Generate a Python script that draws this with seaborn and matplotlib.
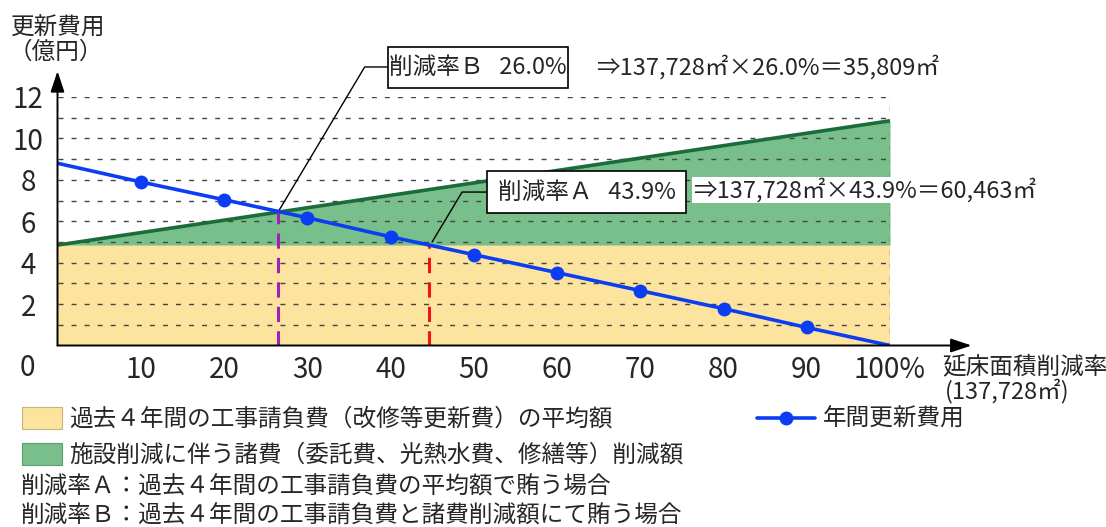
import matplotlib
matplotlib.use("Agg")
import matplotlib.pyplot as plt
from matplotlib.patches import Rectangle, Patch
from matplotlib.lines import Line2D
import seaborn as sns
import pandas as pd

# ---------------- data ----------------
pct = [0, 10, 20, 30, 40, 50, 60, 70, 80, 90, 100]
annual_cost = [8.80, 7.90, 7.04, 6.17, 5.25, 4.39, 3.52, 2.65, 1.78, 0.87, 0.0]
band_x = [0, 100]
contract_avg = [4.85, 4.85]          # 過去4年間の工事請負費の平均額
with_savings = [4.85, 10.85]          # + 諸費削減額
rate_b_pos, rate_b_val = 26.5, 6.45   # 交点B (drawn)
rate_a_pos, rate_a_val = 44.6, 4.85   # 交点A (drawn)
xtick_vals = [10, 20, 30, 40, 50, 60, 70, 80, 90, 100]
xtick_labels = ["10", "20", "30", "40", "50", "60", "70", "80", "90", "100%"]
ytick_vals = [2, 4, 6, 8, 10, 12]
ytick_labels = ["2", "4", "6", "8", "10", "12"]
grid_levels = list(range(1, 13))

label_b = "削減率Ｂ   26.0%"
label_a = "削減率Ａ   43.9%"
calc_b = "⇒137,728㎡×26.0%＝35,809㎡"
calc_a = "⇒137,728㎡×43.9%＝60,463㎡"
leg_yellow = "過去４年間の工事請負費（改修等更新費）の平均額"
leg_green = "施設削減に伴う諸費（委託費、光熱水費、修繕等）削減額"
leg_line = "年間更新費用"
note_a = "削減率Ａ：過去４年間の工事請負費の平均額で賄う場合"
note_b = "削減率Ｂ：過去４年間の工事請負費と諸費削減額にて賄う場合"

# ---------------- style ----------------
sns.set_style("white")
plt.rcParams["font.family"] = ["Noto Sans CJK JP", "DejaVu Sans"]

YELLOW = "#FCE49E"
GREEN = "#79BF8C"
DKGREEN = "#1C6B3B"
BLUE = "#0B3DF2"
PURPLE = "#A020B8"
RED = "#F01414"
GRID = "#444444"
FS = 17
TFS = 20

W, H = 1106, 527
fig = plt.figure(figsize=(W / 100, H / 100), dpi=100)

def fx(x):
    return x / W

def fy(y):
    return 1 - y / H

ax = fig.add_axes([fx(57.5), fy(345.5), 832.5 / W, 248.5 / H])
ax.set_xlim(0, 100)
ax.set_ylim(0, 12)
for s in ax.spines.values():
    s.set_visible(False)

# fills
ax.fill_between(band_x, 0, contract_avg, color=YELLOW, lw=0, zorder=1)
ax.fill_between(band_x, contract_avg, with_savings, color=GREEN, lw=0, zorder=1)

# dashed grid
ax.hlines(grid_levels, 0, 100, colors=GRID, linestyles=(0, (3.6, 5.8)), lw=1, zorder=2)
ax.vlines(100, 0, 12, colors=GRID, linestyles=(0, (3.6, 5.8)), lw=1, zorder=2)

# green top edge
sns.lineplot(x=band_x, y=with_savings, color=DKGREEN, lw=2.6, ax=ax, zorder=3)

# intersection verticals
ax.vlines(rate_b_pos, 0, rate_b_val, colors=PURPLE, linestyles=(0, (5, 3)), lw=2.2, zorder=3)
ax.vlines(rate_a_pos, 0, rate_a_val, colors=RED, linestyles=(0, (5, 3)), lw=2.2, zorder=3)

# annual cost line
df = pd.DataFrame({"pct": pct, "cost": annual_cost})
sns.lineplot(data=df, x="pct", y="cost", color=BLUE, lw=2.6, marker="o",
             markersize=10, markeredgewidth=0, markevery=list(range(1, 10)),
             ax=ax, zorder=5)

# axes arrows
arrow = dict(arrowstyle="-|>,head_length=0.9,head_width=0.3", color="black",
             lw=1.4, mutation_scale=14, shrinkA=0, shrinkB=0)
ax.annotate("", xy=(109.8, 0), xytext=(0, 0), arrowprops=arrow,
            annotation_clip=False, zorder=6)
ax.annotate("", xy=(0, 13.25), xytext=(0, 0), arrowprops=arrow,
            annotation_clip=False, zorder=6)

# ticks
ax.set_xticks(xtick_vals)
ax.set_xticklabels(xtick_labels, fontsize=TFS)
ax.set_yticks(ytick_vals)
ax.set_yticklabels(ytick_labels, fontsize=TFS)
for t in ax.get_yticklabels():
    t.set_horizontalalignment("center")
ax.tick_params(axis="y", length=0, pad=21)
ax.tick_params(axis="x", length=0, pad=7)
ax.set_xlabel("")
ax.set_ylabel("")
ax.grid(False)

fig.text(fx(27), fy(368), "0", fontsize=TFS, ha="center", va="center")

# axis titles
fig.text(fx(11), fy(28), "更新費用", fontsize=FS, ha="left", va="center")
fig.text(fx(9), fy(52), "（億円）", fontsize=FS, ha="left", va="center")
fig.text(fx(942), fy(367), "延床面積削減率", fontsize=FS, ha="left", va="center")
fig.text(fx(945), fy(391), "(137,728㎡)", fontsize=FS, ha="left", va="center")

# leader lines (data coordinates of the bends)
ax.plot([rate_b_pos, 36.9, 39.7], [rate_b_val, 13.45, 13.45], color="black",
        lw=1, clip_on=False, zorder=4)
ax.plot([45.0, 48.6, 51.6], [5.0, 7.41, 7.41], color="black",
        lw=1, clip_on=False, zorder=4)

# annotation boxes
def box(x0, y0, x1, y1, text):
    fig.add_artist(Rectangle((fx(x0), fy(y1)), (x1 - x0) / W, (y1 - y0) / H,
                             transform=fig.transFigure, fc="white", ec="black",
                             lw=1.2, zorder=10))
    fig.text(fx((x0 + x1) / 2), fy((y0 + y1) / 2), text, fontsize=FS,
             ha="center", va="center", zorder=11)

box(388, 47, 568, 88, label_b)
box(487, 171, 686, 213, label_a)
fig.text(fx(596), fy(67.5), calc_b, fontsize=FS, ha="left", va="center")
fig.text(fx(693), fy(190), calc_a, fontsize=FS, ha="left", va="center",
         bbox=dict(fc="white", ec="none", pad=0.5))

# legends
h_y = Patch(facecolor=YELLOW, edgecolor="#C8B47A", lw=0.8)
h_g = Patch(facecolor=GREEN, edgecolor="#5E9C70", lw=0.8)
fig.legend(handles=[h_y, h_g], labels=[leg_yellow, leg_green], loc="upper left",
           bbox_to_anchor=(fx(22), fy(407)), frameon=False, fontsize=FS,
           handlelength=1.7, handleheight=1.05, handletextpad=0.3,
           labelspacing=0.5, borderpad=0, borderaxespad=0)
h_l = Line2D([], [], color=BLUE, lw=2.6, marker="o", markersize=10,
             markeredgewidth=0)
fig.legend(handles=[h_l], labels=[leg_line], loc="upper left",
           bbox_to_anchor=(fx(757), fy(408)), frameon=False, fontsize=FS,
           handlelength=2.45, handletextpad=0.35, borderpad=0, borderaxespad=0)

fig.text(fx(21), fy(487), note_a, fontsize=FS, ha="left", va="center")
fig.text(fx(21), fy(516), note_b, fontsize=FS, ha="left", va="center")

fig.savefig("out.png", dpi=100)
